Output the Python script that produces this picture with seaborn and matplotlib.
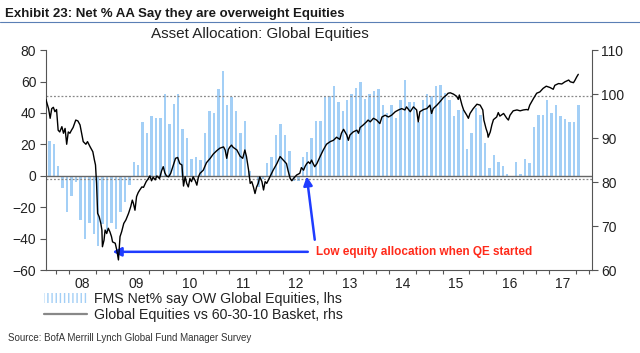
import numpy as np
import pandas as pd
import matplotlib
matplotlib.use('Agg')
import matplotlib.pyplot as plt
import matplotlib.patches as mpatches
from matplotlib.lines import Line2D
import seaborn as sns

# FMS: net % saying overweight global equities (lhs), monthly from Nov-2007
fms_start = '2007-11'
fms_net_ow = [
    22, 20, 6, -8, -23, -13, -4, -28, -40, -30,
    -37, -45, -31, -35, -30, -34, -23, -17, -6, 9,
    7, 34, 27, 38, 37, 37, 52, 33, 46, 52,
    30, 24, 11, 12, 10, 27, 41, 40, 55, 67,
    45, 50, 41, 27, 35, 3, -1, -7, -2, 8,
    12, 26, 33, 26, 16, -3, -3, 12, 15, 24,
    35, 35, 51, 51, 57, 47, 41, 48, 52, 56,
    60, 49, 52, 54, 55, 45, 40, 45, 37, 48,
    61, 47, 47, 34, 48, 52, 51, 57, 58, 53,
    48, 38, 42, 42, 17, 27, 43, 39, 21, 5,
    13, 9, 6, 1, -1, 9, 1, 11, 8, 31,
    39, 39, 48, 40, 45, 38, 36, 34, 34, 45,
]

# Global equities vs 60-30-10 basket (rhs), date as fractional year
basket_t = [
    2007.81, 2007.86, 2007.89, 2007.92, 2007.95, 2007.98, 2008.01, 2008.04, 2008.07, 2008.11,
    2008.14, 2008.17, 2008.20, 2008.23, 2008.26, 2008.29, 2008.32, 2008.37, 2008.41, 2008.45,
    2008.48, 2008.51, 2008.56, 2008.59, 2008.64, 2008.69, 2008.72, 2008.74, 2008.76, 2008.78,
    2008.81, 2008.84, 2008.86, 2008.87, 2008.90, 2008.92, 2008.95, 2008.98, 2009.01, 2009.04,
    2009.06, 2009.11, 2009.14, 2009.17, 2009.20, 2009.23, 2009.27, 2009.31, 2009.36, 2009.40,
    2009.43, 2009.45, 2009.48, 2009.51, 2009.54, 2009.57, 2009.61, 2009.64, 2009.69, 2009.73,
    2009.76, 2009.79, 2009.82, 2009.86, 2009.89, 2009.94, 2009.98, 2010.01, 2010.04, 2010.07,
    2010.11, 2010.15, 2010.20, 2010.24, 2010.28, 2010.32, 2010.36, 2010.39, 2010.42, 2010.45,
    2010.48, 2010.51, 2010.54, 2010.57, 2010.61, 2010.64, 2010.67, 2010.70, 2010.76, 2010.82,
    2010.89, 2010.95, 2011.01, 2011.07, 2011.14, 2011.17, 2011.20, 2011.23, 2011.26, 2011.29,
    2011.32, 2011.39, 2011.45, 2011.50, 2011.54, 2011.57, 2011.61, 2011.64, 2011.67, 2011.70,
    2011.73, 2011.76, 2011.79, 2011.82, 2011.86, 2011.89, 2011.92, 2011.95, 2012.01, 2012.07,
    2012.14, 2012.20, 2012.26, 2012.32, 2012.35, 2012.39, 2012.42, 2012.45, 2012.48, 2012.51,
    2012.57, 2012.60, 2012.64, 2012.67, 2012.70, 2012.73, 2012.76, 2012.79, 2012.82, 2012.85,
    2012.89, 2012.92, 2012.95, 2013.01, 2013.07, 2013.14, 2013.20, 2013.26, 2013.32, 2013.35,
    2013.39, 2013.45, 2013.48, 2013.51, 2013.57, 2013.64, 2013.67, 2013.70, 2013.76, 2013.82,
    2013.85, 2013.89, 2013.95, 2014.01, 2014.07, 2014.11, 2014.17, 2014.23, 2014.29, 2014.36,
    2014.42, 2014.48, 2014.54, 2014.57, 2014.64, 2014.70, 2014.76, 2014.79, 2014.82, 2014.89,
    2014.95, 2015.01, 2015.04, 2015.07, 2015.14, 2015.20, 2015.26, 2015.32, 2015.35, 2015.39,
    2015.45, 2015.51, 2015.54, 2015.56, 2015.61, 2015.64, 2015.70, 2015.73, 2015.76, 2015.82,
    2015.89, 2015.95, 2016.00, 2016.02, 2016.06, 2016.09, 2016.10, 2016.14, 2016.17, 2016.20,
    2016.26, 2016.29, 2016.32, 2016.39, 2016.45, 2016.48, 2016.51, 2016.57, 2016.64, 2016.70,
    2016.76, 2016.82, 2016.85, 2016.88, 2016.95, 2017.01, 2017.07, 2017.13, 2017.19, 2017.26,
    2017.32, 2017.35, 2017.42, 2017.48, 2017.54, 2017.61, 2017.64, 2017.70, 2017.73, 2017.76,
    2017.79,
]
basket_val = [
    98.8, 96.7, 94.5, 96.7, 97.0, 96.0, 96.5, 91.8, 91.4, 92.6,
    91.1, 92.2, 88.6, 91.4, 91.1, 91.8, 92.4, 94.1, 93.9, 93.0,
    91.1, 89.2, 88.6, 89.2, 88.0, 86.9, 85.0, 83.9, 79.7, 72.9,
    72.1, 70.6, 69.1, 65.3, 66.8, 69.1, 68.3, 69.5, 68.7, 67.6,
    66.4, 66.1, 64.5, 62.3, 67.6, 68.7, 70.6, 71.4, 72.9, 74.4,
    75.9, 75.2, 73.6, 76.7, 77.6, 78.2, 78.9, 78.8, 80.1, 80.8,
    81.4, 80.3, 81.1, 80.5, 81.4, 80.8, 82.6, 83.5, 82.1, 81.4,
    81.2, 82.0, 83.9, 85.4, 85.6, 84.2, 83.9, 79.1, 81.2, 79.7,
    78.9, 80.8, 80.1, 81.2, 80.3, 79.3, 81.2, 82.0, 82.7, 84.4,
    85.4, 86.4, 87.1, 87.7, 88.0, 87.3, 85.4, 87.4, 88.0, 88.4,
    87.9, 87.3, 85.9, 85.4, 87.3, 85.8, 82.7, 79.7, 80.1, 78.9,
    77.4, 78.9, 79.7, 81.2, 80.1, 78.2, 80.1, 79.7, 81.2, 82.7,
    84.2, 85.8, 85.0, 84.2, 82.6, 80.8, 80.3, 80.8, 81.2, 81.6,
    82.0, 83.3, 82.7, 83.6, 84.2, 84.6, 84.2, 85.0, 84.2, 83.5,
    84.2, 85.0, 85.8, 87.3, 88.6, 89.2, 89.5, 90.2, 89.7, 91.1,
    92.0, 90.7, 89.5, 90.7, 91.4, 91.8, 91.1, 92.4, 93.0, 93.7,
    94.1, 93.7, 94.5, 94.1, 93.3, 94.8, 95.2, 94.8, 95.2, 96.0,
    96.4, 96.7, 96.4, 97.1, 96.0, 97.1, 96.4, 93.7, 96.0, 96.5,
    96.7, 97.5, 95.6, 96.7, 97.5, 98.3, 99.2, 99.8, 100.2, 100.3,
    100.0, 99.5, 98.8, 99.8, 97.5, 96.4, 95.2, 94.5, 95.6, 96.7,
    97.7, 97.5, 96.4, 94.1, 92.2, 91.1, 90.2, 91.4, 93.0, 94.2,
    94.8, 95.8, 95.0, 95.6, 94.5, 94.1, 95.2, 96.2, 96.4, 96.2,
    96.4, 96.5, 96.4, 97.5, 99.0, 100.2, 100.5, 101.3, 101.8, 101.5,
    101.1, 102.0, 102.4, 102.3, 102.8, 103.2, 102.8, 102.6, 103.2, 103.9,
    104.5,
]

# reference lines on the lhs scale
zero_level = 0
band_levels = [51, -2]

year_labels = ['08', '09', '10', '11', '12', '13', '14', '15', '16', '17']
first_year = 2008

BAR_COLOR = '#A3CFF6'
ARROW_BLUE = '#1f3cff'
TEXT_RED = '#ff2a1a'
AXIS_GREY = '#555555'
NARROW = ['DejaVu Sans Condensed', 'Liberation Sans Narrow', 'Liberation Sans', 'DejaVu Sans']

sns.set_style('ticks')
plt.rcParams['font.family'] = ['Liberation Sans', 'DejaVu Sans']

months = pd.period_range(fms_start, periods=len(fms_net_ow), freq='M')
fms_t = (months.year + (months.month - 0.5) / 12).to_numpy()

fig = plt.figure(figsize=(6.4, 3.53), dpi=100)
ax = fig.add_axes([0.0719, 0.235, 0.8526, 0.623])
ax2 = ax.twinx()

sns.barplot(x=fms_t, y=fms_net_ow, native_scale=True, width=0.55,
            color=BAR_COLOR, saturation=1, errorbar=None,
            edgecolor='none', linewidth=0, ax=ax)
sns.lineplot(x=basket_t, y=basket_val, color='black', linewidth=1.0,
             estimator=None, sort=False, ax=ax2)

ax.axhline(zero_level, color='#666666', linewidth=1.0, zorder=1)
for lvl in band_levels:
    ax.axhline(lvl, color='#888888', linewidth=0.9, linestyle=(0, (1.5, 1.5)), zorder=1)

x_lo, x_hi = 2007.8126, 2018.041
ax.set_xlim(x_lo, x_hi)
ax.set_ylim(-60, 80)
ax.set_yticks(np.arange(-60, 81, 20))
ax2.set_ylim(60, 110)
ax2.set_yticks(np.arange(60, 111, 10))

# year labels sit mid-year, quarter ticks carry the marks
mid_years = [first_year + k + 0.5 for k in range(len(year_labels))]
quarters = np.arange(first_year, 2018.01, 0.25)
ax.set_xticks(mid_years, labels=year_labels)
ax.set_xticks(quarters, minor=True)
ax.tick_params(axis='x', which='major', length=0, pad=5, labelsize=10,
               labelcolor='#222222', labelbottom=True)
ax.tick_params(axis='x', which='minor', length=3, width=0.8, color=AXIS_GREY,
               direction='out', bottom=True)
ax.tick_params(axis='y', length=4, width=0.8, color=AXIS_GREY, labelsize=10,
               labelcolor='#222222', pad=3)
ax2.tick_params(axis='y', length=4, width=0.8, color=AXIS_GREY, labelsize=10,
                labelcolor='#222222', pad=3)

for a in (ax, ax2):
    a.set_xlabel('')
    a.set_ylabel('')
    a.spines['top'].set_visible(False)
    for s in ('left', 'right', 'bottom'):
        a.spines[s].set_color(AXIS_GREY)
        a.spines[s].set_linewidth(0.8)
ax.spines['right'].set_visible(False)
ax2.spines['left'].set_visible(False)
ax2.spines['bottom'].set_visible(False)

# annotations
ax.annotate('', xy=(2009.06, -48.4), xytext=(2012.72, -48.4),
            arrowprops=dict(arrowstyle='-|>', color=ARROW_BLUE, lw=1.8,
                            mutation_scale=13, shrinkA=0, shrinkB=0), zorder=5)
ax.annotate('', xy=(2012.70, -0.4), xytext=(2012.85, -40.7),
            arrowprops=dict(arrowstyle='-|>', color=ARROW_BLUE, lw=1.8,
                            mutation_scale=13, shrinkA=0, shrinkB=0), zorder=5)
ax.text(2012.88, -48.4, 'Low equity allocation when QE started', color=TEXT_RED,
        fontsize=8.5, fontweight='bold', va='center', ha='left', zorder=5)

# titles
fig.text(5 / 640, 1 - 14 / 353, 'Exhibit 23: Net % AA Say they are overweight Equities',
         family=NARROW, fontweight='bold', fontsize=9.5, color='#1a1a1a',
         va='center', ha='left')
fig.add_artist(Line2D([0, 1], [1 - 22 / 353] * 2, color='#5a7fb5', linewidth=0.8))
fig.text(260 / 640, 1 - 34 / 353, 'Asset Allocation: Global Equities',
         fontsize=11, color='#222222', va='center', ha='center')

# legend
handles = [
    mpatches.Patch(facecolor='white', edgecolor=BAR_COLOR, hatch='||||', linewidth=0),
    Line2D([], [], color='#888888', linewidth=1.6),
]
labels = ['FMS Net% say OW Global Equities, lhs',
          'Global Equities vs 60-30-10 Basket, rhs']
fig.legend(handles, labels, loc='upper left', bbox_to_anchor=(44 / 640, 1 - 292 / 353),
           frameon=False, fontsize=10.2, handlelength=3.0, handleheight=0.7,
           handletextpad=0.5, labelspacing=0.12, borderaxespad=0, borderpad=0,
           labelcolor='#222222')

fig.text(8 / 640, 1 - 338 / 353, 'Source: BofA Merrill Lynch Global Fund Manager Survey',
         family=NARROW, fontsize=7, color='#333333', va='center', ha='left')

fig.savefig('out.png', dpi=100)
